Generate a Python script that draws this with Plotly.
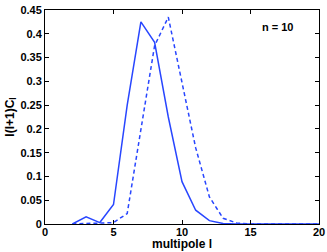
import plotly.graph_objects as go

multipole = list(range(2, 21))
solid_vals = [0.0, 0.015, 0.003, 0.041, 0.25, 0.425, 0.382, 0.225, 0.089, 0.029, 0.007, 0.001,
              0.0, 0.0, 0.0, 0.0, 0.0, 0.0, 0.0]
dashed_vals = [0.0, 0.001, 0.003, 0.003, 0.022, 0.195, 0.375, 0.435, 0.30, 0.16, 0.057, 0.012,
               0.002, 0.0, 0.0, 0.0, 0.0, 0.0, 0.0]
x_ticks = [0, 5, 10, 15, 20]
y_ticks = [0, 0.05, 0.1, 0.15, 0.2, 0.25, 0.3, 0.35, 0.4, 0.45]
y_tick_text = ["0", "0.05", "0.1", "0.15", "0.2", "0.25", "0.3", "0.35", "0.4", "0.45"]

blue = "rgb(40,70,255)"
font_fam = "Liberation Sans, Arial, sans-serif"

fig = go.Figure()
fig.add_trace(go.Scatter(x=multipole, y=solid_vals, mode="lines",
                         line=dict(color=blue, width=1.5, dash="solid"), showlegend=False))
fig.add_trace(go.Scatter(x=multipole, y=dashed_vals, mode="lines",
                         line=dict(color=blue, width=1.5, dash="4px,3px"), showlegend=False))

axis_common = dict(showgrid=False, zeroline=False, showline=True, linecolor="black", linewidth=1,
                   mirror="ticks", ticks="inside", ticklen=4, tickcolor="black", automargin=False,
                   tickfont=dict(family=font_fam, size=11, color="black", weight="bold"))

fig.update_layout(
    width=327, height=252,
    margin=dict(l=45, r=8, t=10, b=28),
    plot_bgcolor="white", paper_bgcolor="white",
    xaxis=dict(range=[0, 20], tickvals=x_ticks, ticklabelstandoff=-2, **axis_common),
    yaxis=dict(range=[0, 0.45], tickvals=y_ticks, ticktext=y_tick_text, **axis_common,
               title=dict(text="l(l+1)C<sub>l</sub>", standoff=3,
                          font=dict(family=font_fam, size=12, color="black", weight="bold"))),
    annotations=[
        dict(x=17, y=0.414, xref="x", yref="y", text="n = 10", showarrow=False,
             font=dict(family=font_fam, size=11, color="black", weight="bold")),
        dict(x=0.5, xref="x domain", y=0, yref="paper", yshift=-20, yanchor="middle",
             text="multipole l", showarrow=False,
             font=dict(family=font_fam, size=12, color="black", weight="bold")),
    ],
)

fig.write_html("out.html", config={"displayModeBar": False},
               post_script="document.body.style.margin='0';document.body.style.overflow='hidden';")
